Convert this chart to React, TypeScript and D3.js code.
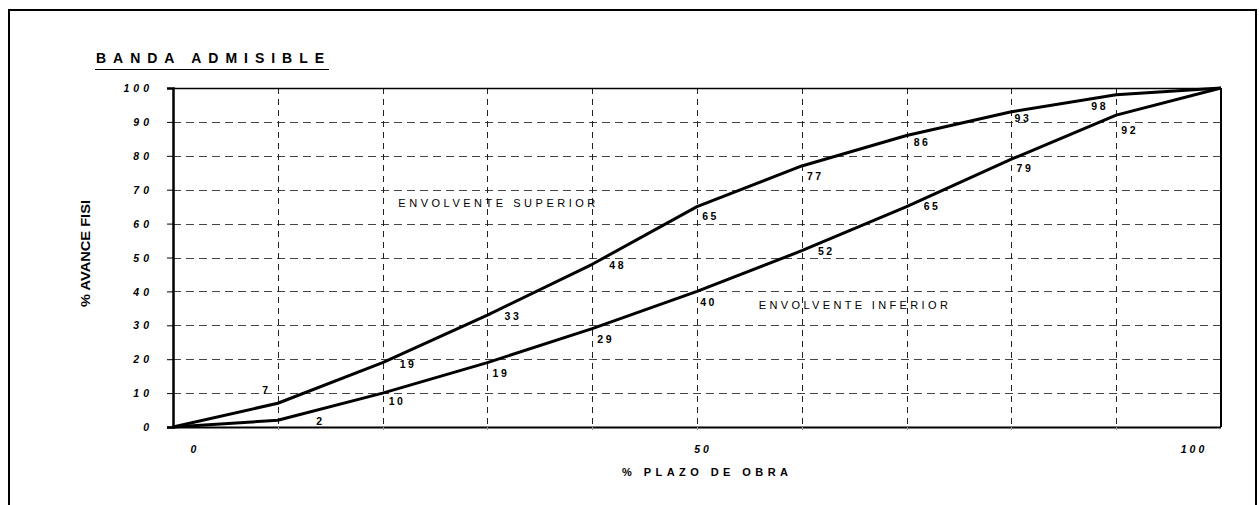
import React, { useEffect, useRef } from "react";
import * as d3 from "d3";

// % plazo de obra (categorias del eje x)
const plazo = [0, 10, 20, 30, 40, 50, 60, 70, 80, 90, 100];
const envolventeSuperior = [0, 7, 19, 33, 48, 65, 77, 86, 93, 98, 100];
const envolventeInferior = [0, 2, 10, 19, 29, 40, 52, 65, 79, 92, 100];
const yTicks = [0, 10, 20, 30, 40, 50, 60, 70, 80, 90, 100];
const xTickValues = [0, 50, 100];
const xTickLabels = ["0", "50", "100"];

// desplazamiento de las etiquetas respecto al punto (px)
const supLabelOffset = [null, [-13, -13], [24, 2], [24, 1], [24, 1], [12, 10], [12, 10], [14, 7], [10, 6], [-18, 11], null];
const infLabelOffset = [null, [41, 1], [13, 8], [12, 11], [12, 11], [10, 11], [23, 0], [24, 0], [12, 9], [12, 15], null];
const xTickShift = [22, 6, -27];

const FONT = "'Liberation Sans', Arial, sans-serif";

const App = () => {
  const chart = useRef<SVGSVGElement>(null);

  useEffect(() => {
    const width = 1259;
    const height = 505;
    const plot = { left: 173, right: 1221, top: 88, bottom: 427 };

    const svg = d3.select(chart.current)
      .attr("width", width)
      .attr("height", height)
      .style("position", "absolute")
      .style("left", 0)
      .style("top", 0)
      .style("background", "#fff");

    svg.selectAll("*").remove();

    // marco exterior
    svg.append("rect")
      .attr("x", 9).attr("y", 10)
      .attr("width", 1247).attr("height", 520)
      .attr("fill", "#fff")
      .attr("stroke", "#000")
      .attr("stroke-width", 2);

    const x = d3.scaleLinear().domain([0, 100]).range([plot.left, plot.right]);
    const y = d3.scaleLinear().domain([0, 100]).range([plot.bottom, plot.top]);

    // titulo
    svg.append("text")
      .attr("x", 96).attr("y", 63)
      .attr("font-family", FONT)
      .attr("font-size", 14)
      .attr("font-weight", "bold")
      .attr("textLength", 228)
      .attr("lengthAdjust", "spacing")
      .text("BANDA ADMISIBLE");
    svg.append("line")
      .attr("x1", 95).attr("x2", 329)
      .attr("y1", 69.5).attr("y2", 69.5)
      .attr("stroke", "#000").attr("stroke-width", 1);

    // cuadricula horizontal
    svg.append("g")
      .selectAll("line")
      .data(yTicks.filter(d => d > 0 && d < 100))
      .join("line")
      .attr("x1", plot.left).attr("x2", plot.right)
      .attr("y1", d => Math.round(y(d)) + 0.5).attr("y2", d => Math.round(y(d)) + 0.5)
      .attr("stroke", "#444")
      .attr("stroke-dasharray", "8,5");

    // cuadricula vertical
    svg.append("g")
      .selectAll("line")
      .data(plazo.filter(d => d > 0 && d < 100))
      .join("line")
      .attr("x1", d => Math.round(x(d)) + 0.5).attr("x2", d => Math.round(x(d)) + 0.5)
      .attr("y1", plot.top).attr("y2", plot.bottom)
      .attr("stroke", "#222")
      .attr("stroke-dasharray", "6,5");

    // borde del area de trazado
    svg.append("line")
      .attr("x1", plot.left).attr("x2", plot.right)
      .attr("y1", plot.top + 0.5).attr("y2", plot.top + 0.5)
      .attr("stroke", "#000").attr("stroke-width", 1.5);
    svg.append("line")
      .attr("x1", plot.right).attr("x2", plot.right)
      .attr("y1", plot.top).attr("y2", plot.bottom)
      .attr("stroke", "#000").attr("stroke-width", 2);

    // eje y
    const yAxis = svg.append("g")
      .attr("transform", `translate(${plot.left},0)`)
      .call(d3.axisLeft(y).tickValues(yTicks).tickSize(6).tickPadding(14).tickFormat(d3.format("d")));
    yAxis.select(".domain").attr("stroke-width", 2.5);
    yAxis.selectAll(".tick line").attr("stroke", "#000");
    yAxis.selectAll("text")
      .attr("font-family", FONT)
      .attr("font-size", 10.5)
      .attr("font-weight", "bold")
      .attr("font-style", "italic")
      .attr("letter-spacing", 4)
      .attr("fill", "#000")
      .attr("dy", "0.35em");

    // eje x
    svg.append("line")
      .attr("x1", plot.left - 6).attr("x2", plot.right)
      .attr("y1", plot.bottom + 0.5).attr("y2", plot.bottom + 0.5)
      .attr("stroke", "#000").attr("stroke-width", 2);
    svg.append("g")
      .selectAll("line")
      .data(plazo.filter(d => d > 0 && d < 100))
      .join("line")
      .attr("x1", d => Math.round(x(d)) + 0.5).attr("x2", d => Math.round(x(d)) + 0.5)
      .attr("y1", plot.bottom).attr("y2", plot.bottom + 3)
      .attr("stroke", "#999");
    svg.append("g")
      .selectAll("text")
      .data(xTickValues)
      .join("text")
      .attr("x", (d, i) => x(d) + xTickShift[i])
      .attr("y", plot.bottom + 26)
      .attr("text-anchor", "middle")
      .attr("font-family", FONT)
      .attr("font-size", 10.5)
      .attr("font-weight", "bold")
      .attr("font-style", "italic")
      .attr("letter-spacing", 3)
      .text((d, i) => xTickLabels[i]);

    // titulos de ejes
    svg.append("text")
      .attr("x", 622).attr("y", 476)
      .attr("font-family", FONT)
      .attr("font-size", 11)
      .attr("font-weight", "bold")
      .attr("textLength", 166)
      .attr("lengthAdjust", "spacing")
      .text("% PLAZO DE OBRA");
    svg.append("text")
      .attr("transform", "translate(90,307) rotate(-90)")
      .attr("font-family", FONT)
      .attr("font-size", 13)
      .attr("font-weight", "bold")
      .attr("textLength", 107)
      .attr("lengthAdjust", "spacingAndGlyphs")
      .text("% AVANCE FISI");

    // series
    const line = d3.line<number>()
      .x((d, i) => x(plazo[i]))
      .y(d => y(d));

    [envolventeSuperior, envolventeInferior].forEach(serie => {
      svg.append("path")
        .datum(serie)
        .attr("fill", "none")
        .attr("stroke", "#000")
        .attr("stroke-width", 3)
        .attr("stroke-linejoin", "round")
        .attr("d", line);
    });

    // etiquetas de datos
    const labels = (serie: number[], offs: (number[] | null)[]) => {
      svg.append("g")
        .selectAll("text")
        .data(serie.map((v, i) => ({ v, i })).filter(d => offs[d.i]))
        .join("text")
        .attr("x", d => x(plazo[d.i]) + (offs[d.i] as number[])[0] + 1.5)
        .attr("y", d => y(d.v) + (offs[d.i] as number[])[1])
        .attr("dy", "0.36em")
        .attr("text-anchor", "middle")
        .attr("font-family", FONT)
        .attr("font-size", 10.5)
        .attr("font-weight", "bold")
        .attr("letter-spacing", 2.5)
        .text(d => String(d.v));
    };
    labels(envolventeSuperior, supLabelOffset);
    labels(envolventeInferior, infLabelOffset);

    // anotaciones
    svg.append("text")
      .attr("x", x(21.5)).attr("y", y(66)).attr("dy", "0.36em")
      .attr("font-family", FONT)
      .attr("font-size", 11)
      .attr("textLength", 197)
      .attr("lengthAdjust", "spacing")
      .text("ENVOLVENTE SUPERIOR");
    svg.append("text")
      .attr("x", x(55.9)).attr("y", y(36)).attr("dy", "0.36em")
      .attr("font-family", FONT)
      .attr("font-size", 11)
      .attr("textLength", 189)
      .attr("lengthAdjust", "spacing")
      .text("ENVOLVENTE INFERIOR");
  }, []);

  return (
    <div id="bandaAdmisible">
      <svg ref={chart} />
    </div>
  );
};

export default App;
